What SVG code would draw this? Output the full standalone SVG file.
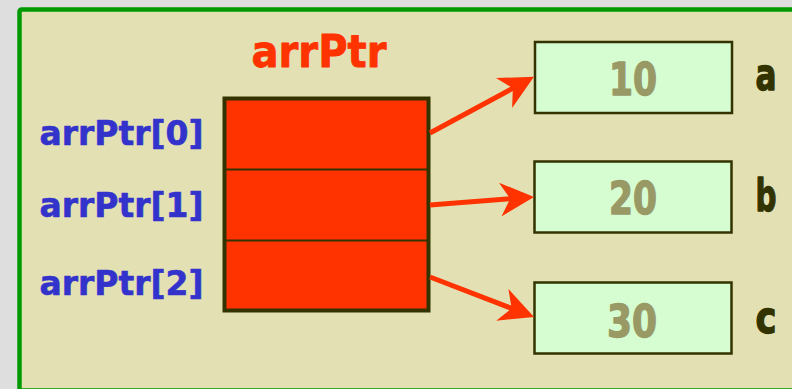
<svg xmlns="http://www.w3.org/2000/svg" width="792" height="389" viewBox="0 0 792 389">
  <style>
    .lbl { font-family: "DejaVu Sans", Verdana, sans-serif; font-weight: bold; stroke-linejoin: round; }
    .idx { fill: #3333cc; stroke: #3333cc; stroke-width: 0.6; font-size: 34px; }
    .val { fill: #999966; stroke: #999966; stroke-width: 1.4; font-size: 45px; text-anchor: middle; }
    .var { fill: #333300; stroke: #333300; stroke-width: 1.4; font-size: 45px; }
    .ttl { fill: #ff3300; stroke: #ff3300; stroke-width: 0.8; font-size: 44px; text-anchor: middle; }
    .cell { fill: #ff3300; stroke: #333300; }
    .box { fill: #d5fdd1; stroke: #333300; stroke-width: 2.5; }
    .ptr { stroke: #ff3300; stroke-width: 5; fill: none; marker-end: url(#head); }
  </style>
  <defs>
    <marker id="head" markerUnits="userSpaceOnUse" markerWidth="36" markerHeight="36" refX="12" refY="17" orient="auto">
      <path d="M0,0 L34,17 L0,34 L10,17 Z" fill="#ff3300"/>
    </marker>
  </defs>

  <!-- page background and frame -->
  <rect x="0" y="0" width="792" height="389" fill="#dedede"/>
  <rect x="19.5" y="9.5" width="800" height="381" rx="2" fill="#e3e1b3" stroke="#009900" stroke-width="4.5"/>

  <!-- pointer array -->
  <g id="arrPtr">
    <text class="lbl ttl" x="319" y="67" textLength="135" lengthAdjust="spacingAndGlyphs">arrPtr</text>
    <rect class="cell" x="224.5" y="98.5" width="204" height="212" stroke-width="4"/>
    <line x1="224" y1="169.5" x2="429" y2="169.5" stroke="#333300" stroke-width="2"/>
    <line x1="224" y1="240.5" x2="429" y2="240.5" stroke="#333300" stroke-width="2"/>
  </g>

  <!-- element labels -->
  <g id="labels">
    <text class="lbl idx" x="39.5" y="145" textLength="164" lengthAdjust="spacingAndGlyphs">arrPtr[0]</text>
    <text class="lbl idx" x="39.5" y="217" textLength="164" lengthAdjust="spacingAndGlyphs">arrPtr[1]</text>
    <text class="lbl idx" x="39.5" y="295" textLength="164" lengthAdjust="spacingAndGlyphs">arrPtr[2]</text>
  </g>

  <!-- variables -->
  <g id="var-a">
    <rect class="box" x="535" y="42" width="197" height="71"/>
    <text class="lbl val" x="633" y="95" textLength="48" lengthAdjust="spacingAndGlyphs">10</text>
    <text class="lbl var" x="755.5" y="90" textLength="21" lengthAdjust="spacingAndGlyphs">a</text>
  </g>
  <g id="var-b">
    <rect class="box" x="534.5" y="161.5" width="197" height="71"/>
    <text class="lbl val" x="633" y="214" textLength="48" lengthAdjust="spacingAndGlyphs">20</text>
    <text class="lbl var" x="755.5" y="211" textLength="21" lengthAdjust="spacingAndGlyphs">b</text>
  </g>
  <g id="var-c">
    <rect class="box" x="534.5" y="282.5" width="197" height="71"/>
    <text class="lbl val" x="632" y="337" textLength="50" lengthAdjust="spacingAndGlyphs">30</text>
    <text class="lbl var" x="755.5" y="333" textLength="21" lengthAdjust="spacingAndGlyphs">c</text>
  </g>

  <!-- pointer connectors -->
  <g id="connectors">
    <line class="ptr" x1="430" y1="133" x2="514.6" y2="87.3"/>
    <line class="ptr" x1="430" y1="205" x2="512.1" y2="198.6"/>
    <line class="ptr" x1="430" y1="277" x2="513.5" y2="309.1"/>
  </g>
</svg>
